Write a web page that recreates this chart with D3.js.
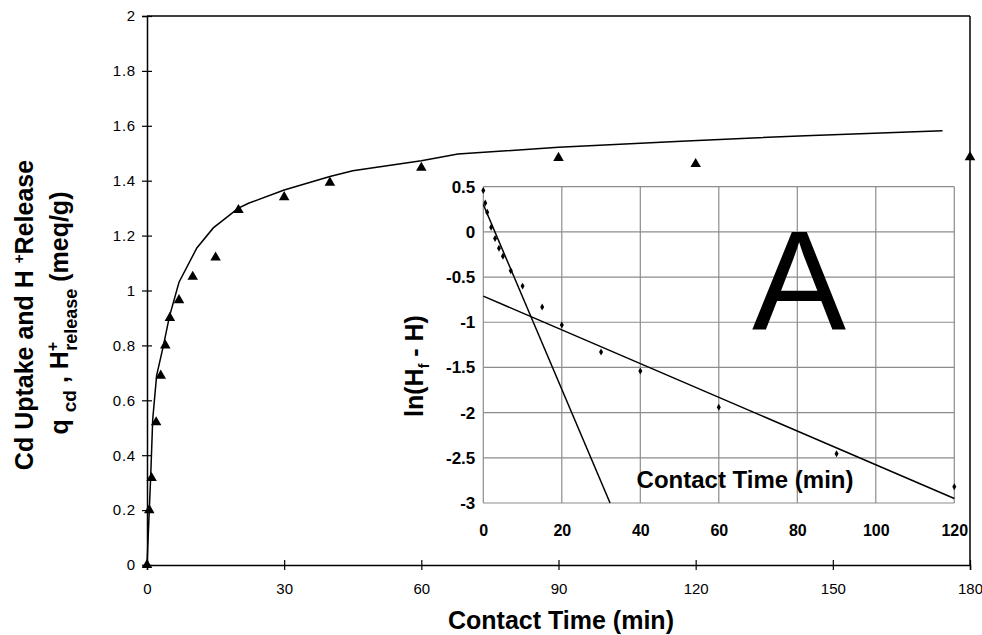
<!DOCTYPE html>
<html>
<head>
<meta charset="utf-8">
<script src="https://cdn.jsdelivr.net/npm/d3@7"></script>
<style>
  body { margin: 0; background: #fff; }
  svg { display: block; font-family: 'Liberation Sans', Arial, sans-serif; }
</style>
</head>
<body>
<svg id="chart"></svg>
<script>
// main plot: Cd uptake (triangles) and model curve
const uptakeTime = [0, 0.5, 1, 2, 3, 4, 5, 7, 10, 15, 20, 30, 40, 60, 90, 120, 180]
const uptakeValue = [0, 0.2, 0.317, 0.52, 0.69, 0.8, 0.9, 0.965, 1.05, 1.12, 1.293, 1.34, 1.393, 1.447, 1.483, 1.461, 1.486]
const modelTime = [0, 0.5, 0.8, 1.25, 2.1, 3.6, 4.9, 7, 10.9, 14.5, 20, 22.2, 30, 40, 45, 60, 68, 90, 118, 144, 174]
const modelValue = [0, 0.2, 0.32, 0.53, 0.69, 0.8, 0.905, 1.03, 1.155, 1.228, 1.3, 1.318, 1.366, 1.415, 1.436, 1.473, 1.497, 1.522, 1.545, 1.564, 1.582]
const mainXTicks = [0, 30, 60, 90, 120, 150, 180]
const mainYTicks = [0, 0.2, 0.4, 0.6, 0.8, 1, 1.2, 1.4, 1.6, 1.8, 2]

// inset: ln(Hf - H) vs time with two linear fits
const lnTime = [0, 0.5, 1, 2, 3, 4, 5, 7, 10, 15, 20, 30, 40, 60, 90, 120]
const lnValue = [0.458, 0.32, 0.218, 0.052, -0.073, -0.18, -0.27, -0.43, -0.6, -0.83, -1.03, -1.33, -1.54, -1.94, -2.455, -2.82]
const fastFit = [[0, 0.303], [32.3, -3]]
const slowFit = [[0, -0.711], [120, -2.95]]
const insetXTicks = [0, 20, 40, 60, 80, 100, 120]
const insetYTicks = [0.5, 0, -0.5, -1, -1.5, -2, -2.5, -3]

const width = 982
const height = 635
const svg = d3.select('#chart').attr('width', width).attr('height', height)

const fmt = (d) => String(+d.toFixed(1))
const FONT = 'Liberation Sans, Arial, sans-serif'

const drawMain = () => {
  const xScale = d3.scaleLinear().domain([0, 180]).range([147, 970])
  const yScale = d3.scaleLinear().domain([0, 2]).range([565, 16])

  // frame top / right
  svg.append('line')
    .attr('x1', xScale(0)).attr('x2', xScale(180))
    .attr('y1', yScale(2)).attr('y2', yScale(2))
    .attr('stroke', '#000').attr('stroke-width', 1.5)
  svg.append('line')
    .attr('x1', xScale(180)).attr('x2', xScale(180))
    .attr('y1', yScale(2)).attr('y2', yScale(0))
    .attr('stroke', '#000').attr('stroke-width', 1.5)

  const axisX = d3.axisBottom(xScale).tickValues(mainXTicks).tickSize(5).tickPadding(13).tickFormat(fmt)
  svg.append('g')
    .attr('transform', `translate(0,${yScale(0)})`)
    .call(axisX)
    .call((g) => {
      g.select('.domain').attr('stroke-width', 1.5)
      g.selectAll('.tick line').attr('y1', -5).attr('stroke-width', 1.2)
      g.selectAll('text').style('font-size', '15px').style('font-family', FONT)
    })

  const axisY = d3.axisLeft(yScale).tickValues(mainYTicks).tickSize(5).tickPadding(6).tickFormat(fmt)
  svg.append('g')
    .attr('transform', `translate(${xScale(0)},0)`)
    .call(axisY)
    .call((g) => {
      g.select('.domain').attr('stroke-width', 1.5)
      g.selectAll('.tick line').attr('x1', 5).attr('stroke-width', 1.2)
      g.selectAll('text').style('font-size', '15px').style('letter-spacing', '0.8px').style('font-family', FONT)
    })

  const line = d3.line().x((d) => xScale(d[0])).y((d) => yScale(d[1]))
  svg.append('path')
    .datum(d3.zip(modelTime, modelValue))
    .attr('d', line)
    .attr('fill', 'none')
    .attr('stroke', '#000')
    .attr('stroke-width', 1.5)

  svg.append('g')
    .selectAll('path')
    .data(d3.zip(uptakeTime, uptakeValue))
    .enter()
    .append('path')
    .attr('d', d3.symbol().type(d3.symbolTriangle).size(48))
    .attr('transform', (d) => `translate(${xScale(d[0])},${yScale(d[1])})`)
    .attr('fill', '#000')

  // axis titles
  svg.append('text')
    .attr('x', 561).attr('y', 629)
    .attr('text-anchor', 'middle')
    .style('font-size', '25px').style('font-weight', 'bold')
    .text('Contact Time (min)')

  const t1 = svg.append('text')
    .attr('transform', 'translate(33,315) rotate(-90)')
    .attr('text-anchor', 'middle')
    .style('font-size', '25px').style('font-weight', 'bold')
  t1.append('tspan').text('Cd Uptake and H ')
  t1.append('tspan').attr('dy', -9).style('font-size', '15px').text('+')
  t1.append('tspan').attr('dy', 9).text('Release')

  const t2 = svg.append('text')
    .attr('transform', 'translate(68,313) rotate(-90)')
    .attr('text-anchor', 'middle')
    .style('font-size', '25px').style('font-weight', 'bold')
  t2.append('tspan').text('q ')
  t2.append('tspan').attr('dy', 8).style('font-size', '19px').text('cd')
  t2.append('tspan').attr('dy', -8).text(' , H')
  t2.append('tspan').attr('dy', -10).style('font-size', '16px').text('+')
  t2.append('tspan').attr('dx', -9).attr('dy', 19).style('font-size', '18px').text('release')
  t2.append('tspan').attr('dy', -9).text(' (meq/g)')
}

const drawInset = () => {
  const xScale = d3.scaleLinear().domain([0, 120]).range([483.3, 954.3])
  const yScale = d3.scaleLinear().domain([-3, 0.5]).range([503, 186.7])
  const g = svg.append('g')

  g.append('rect')
    .attr('x', xScale(0)).attr('y', yScale(0.5))
    .attr('width', xScale(120) - xScale(0)).attr('height', yScale(-3) - yScale(0.5))
    .attr('fill', '#fff')

  g.append('g').selectAll('line').data(insetXTicks).enter().append('line')
    .attr('x1', (d) => xScale(d)).attr('x2', (d) => xScale(d))
    .attr('y1', yScale(0.5)).attr('y2', yScale(-3))
    .attr('stroke', '#8c8c8c').attr('stroke-width', 1.2)
  g.append('g').selectAll('line').data(insetYTicks).enter().append('line')
    .attr('x1', xScale(0)).attr('x2', xScale(120))
    .attr('y1', (d) => yScale(d)).attr('y2', (d) => yScale(d))
    .attr('stroke', '#8c8c8c').attr('stroke-width', 1.2)

  const axisX = d3.axisBottom(xScale).tickValues(insetXTicks).tickSize(0).tickPadding(22).tickFormat(fmt)
  g.append('g')
    .attr('transform', `translate(0,${yScale(-3)})`)
    .call(axisX)
    .call((a) => {
      a.select('.domain').remove()
      a.selectAll('text').style('font-size', '16px').style('font-weight', 'bold').style('font-family', FONT)
    })
  const axisY = d3.axisLeft(yScale).tickValues(insetYTicks).tickSize(0).tickPadding(8).tickFormat(fmt)
  g.append('g')
    .attr('transform', `translate(${xScale(0)},0)`)
    .call(axisY)
    .call((a) => {
      a.select('.domain').remove()
      a.selectAll('text').style('font-size', '17px').style('font-weight', 'bold').style('font-family', FONT)
    })

  const line = d3.line().x((d) => xScale(d[0])).y((d) => yScale(d[1]))
  ;[fastFit, slowFit].forEach((fit) => {
    g.append('path')
      .datum(fit)
      .attr('d', line)
      .attr('fill', 'none')
      .attr('stroke', '#000')
      .attr('stroke-width', 1.5)
  })

  g.append('g').selectAll('path').data(d3.zip(lnTime, lnValue)).enter().append('path')
    .attr('d', d3.symbol().type(d3.symbolDiamond).size(14))
    .attr('transform', (d) => `translate(${xScale(d[0])},${yScale(d[1])})`)
    .attr('fill', '#000')

  g.append('text')
    .attr('x', 799).attr('y', 329)
    .attr('text-anchor', 'middle')
    .style('font-size', '141px')
    .text('A')

  g.append('text')
    .attr('x', 745).attr('y', 488)
    .attr('text-anchor', 'middle')
    .style('font-size', '24px').style('font-weight', 'bold')
    .text('Contact Time (min)')

  const yt = g.append('text')
    .attr('transform', 'translate(423,366) rotate(-90)')
    .attr('text-anchor', 'middle')
    .style('font-size', '25px').style('font-weight', 'bold')
  yt.append('tspan').text('ln(H')
  yt.append('tspan').attr('dy', 6).style('font-size', '14px').text('f')
  yt.append('tspan').attr('dy', -6).text(' - H)')
}

drawMain()
drawInset()
</script>
</body>
</html>
